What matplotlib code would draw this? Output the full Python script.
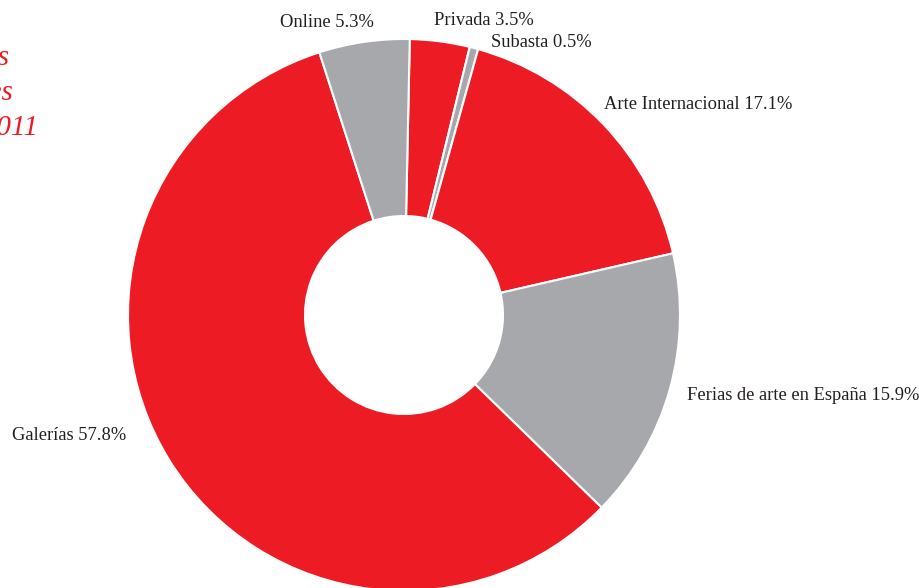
import matplotlib
matplotlib.use("Agg")
import matplotlib.pyplot as plt

# Data
categories = ["Privada", "Subasta", "Arte Internacional", "Ferias de arte en España", "Galerías", "Online"]
values = [3.5, 0.5, 17.1, 15.9, 57.8, 5.3]
label_texts = ["Privada 3.5%", "Subasta 0.5%", "Arte Internacional 17.1%",
               "Ferias de arte en España 15.9%", "Galerías 57.8%", "Online 5.3%"]

RED = "#ED1C24"
GREY = "#A7A8AB"
colors = [RED, GREY, RED, GREY, RED, GREY]

W, H = 920, 588
fig = plt.figure(figsize=(W / 100, H / 100), dpi=100)
ax = fig.add_axes([0, 0, 1, 1])

cx, cy_px, r_out, r_in = 404, 315, 276, 99
ax.pie(values, colors=colors, startangle=88.8, counterclock=False,
       center=(cx, H - cy_px), radius=r_out,
       wedgeprops=dict(width=r_out - r_in, edgecolor="white", linewidth=1.5),
       frame=True)
ax.set_xlim(0, W)
ax.set_ylim(0, H)
ax.set_aspect("equal")
ax.axis("off")

serif = ["Liberation Serif", "DejaVu Serif"]
# label positions (left x, center y in pixels)
label_pos = [(434, 20), (491, 42), (604, 104), (687, 396), (12, 436), (280, 22)]
for txt, (lx, ly) in zip(label_texts, label_pos):
    ax.text(lx, H - ly, txt, ha="left", va="center", fontsize=13.3,
            family=serif, color="#231F20")

# cut-off italic title at top-left (partly outside the canvas, as in the reference)
title_lines = ["Canales de ventas", "de artistas españoles", "en 2011"]
title_pos = [(9, 65), (13, 100), (38, 135)]
for t, (tx, ty) in zip(title_lines, title_pos):
    ax.text(tx, H - ty, t, ha="right", va="baseline", fontsize=21,
            family=serif, style="italic", color=RED)

fig.savefig("out.png", dpi=100)
